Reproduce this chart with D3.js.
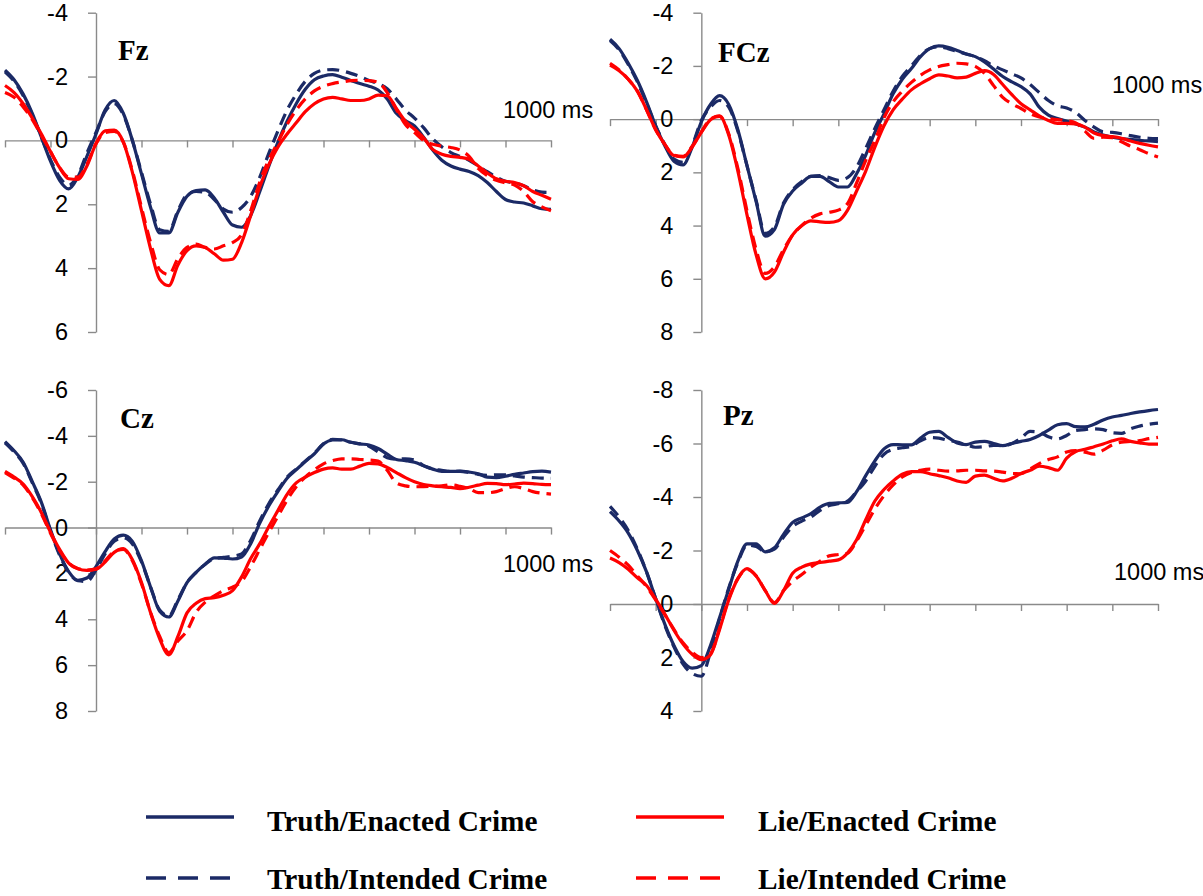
<!DOCTYPE html>
<html>
<head>
<meta charset="utf-8">
<script src="https://cdn.jsdelivr.net/npm/d3@7"></script>
<style>
	body { margin: 0; background: #fff; }
	.tick text { font-family: "Liberation Sans", Arial, sans-serif; font-size: 23.5px; fill: #000; }
	.axis path, .axis line { stroke: #8a8a8a; stroke-width: 1.4px; }
</style>
</head>
<body>
<script>
// sample times in ms (every 20 ms from -200 to 1000)
var times = d3.range(-200, 1001, 20)
var x_ticks = d3.range(-200, 1001, 100)

// amplitudes in microvolts
var fz_truth_enacted = [
	-2.2,-1.9,-1.45,-0.85,-0.1,0.65,1.25,1.52,1.15,0.5,
	-0.2,-0.95,-1.25,-0.85,0.0,1.05,2.1,2.9,2.9,2.25,
	1.75,1.57,1.55,1.8,2.25,2.65,2.72,2.35,1.6,0.8,
	0.05,-0.6,-1.15,-1.6,-1.9,-2.02,-2.06,-1.98,-1.88,-1.78,
	-1.7,-1.58,-1.3,-0.85,-0.62,-0.45,-0.1,0.3,0.62,0.8,
	0.9,0.97,1.1,1.32,1.6,1.85,1.93,1.96,2.05,2.14,
	2.16]
var fz_truth_intended = [
	-2.15,-1.85,-1.4,-0.8,-0.1,0.6,1.15,1.4,1.1,0.4,
	-0.25,-0.9,-1.15,-0.8,0.0,1.0,2.0,2.8,2.85,2.2,
	1.7,1.6,1.62,1.85,2.15,2.25,2.1,1.75,1.15,0.4,
	-0.3,-0.95,-1.45,-1.85,-2.1,-2.2,-2.22,-2.18,-2.1,-2.0,
	-1.88,-1.78,-1.62,-1.3,-0.95,-0.7,-0.4,-0.05,0.2,0.38,
	0.5,0.62,0.8,0.98,1.15,1.28,1.33,1.42,1.55,1.62,
	1.63]
var fz_lie_enacted = [
	-1.72,-1.5,-1.15,-0.7,-0.2,0.35,0.85,1.2,1.22,0.8,
	0.1,-0.3,-0.32,0.05,1.0,2.2,3.4,4.35,4.55,3.9,
	3.45,3.3,3.35,3.55,3.75,3.72,3.2,2.35,1.45,0.75,
	0.2,-0.2,-0.55,-0.9,-1.15,-1.3,-1.35,-1.3,-1.25,-1.25,
	-1.3,-1.42,-1.4,-1.0,-0.6,-0.35,-0.08,0.28,0.43,0.5,
	0.53,0.59,0.8,1.02,1.2,1.28,1.32,1.42,1.6,1.72,
	1.84]
var fz_lie_intended = [
	-1.5,-1.35,-1.05,-0.65,-0.15,0.35,0.85,1.15,1.15,0.75,
	0.1,-0.25,-0.28,0.05,0.95,2.1,3.2,4.05,4.2,3.7,
	3.35,3.25,3.35,3.4,3.3,3.2,2.95,2.2,1.3,0.6,
	0.05,-0.5,-0.95,-1.3,-1.55,-1.7,-1.78,-1.83,-1.87,-1.88,
	-1.87,-1.82,-1.5,-0.98,-0.5,-0.25,0.0,0.12,0.18,0.22,
	0.3,0.5,0.88,1.1,1.25,1.33,1.4,1.6,1.92,2.08,
	2.2]

var fcz_truth_enacted = [
	-3.0,-2.65,-2.1,-1.45,-0.65,0.25,1.0,1.58,1.72,1.05,
	0.1,-0.55,-0.88,-0.55,0.4,1.75,3.1,4.4,4.15,3.2,
	2.7,2.4,2.15,2.15,2.35,2.55,2.55,2.05,1.35,0.5,
	-0.2,-0.95,-1.5,-1.9,-2.35,-2.65,-2.75,-2.7,-2.58,-2.45,
	-2.35,-2.15,-1.88,-1.6,-1.4,-1.22,-0.95,-0.45,-0.15,-0.02,
	0.08,0.18,0.3,0.48,0.6,0.68,0.73,0.76,0.8,0.82,
	0.85]
var fcz_truth_intended = [
	-2.95,-2.6,-2.05,-1.4,-0.6,0.25,0.95,1.5,1.62,1.0,
	0.05,-0.45,-0.7,-0.45,0.45,1.75,3.05,4.3,4.05,3.15,
	2.65,2.35,2.15,2.12,2.2,2.3,2.2,1.8,1.1,0.35,
	-0.35,-1.05,-1.6,-2.0,-2.4,-2.65,-2.72,-2.65,-2.55,-2.45,
	-2.35,-2.2,-2.0,-1.85,-1.7,-1.55,-1.3,-1.0,-0.7,-0.5,
	-0.42,-0.25,0.05,0.3,0.48,0.5,0.55,0.62,0.68,0.72,
	0.73]
var fcz_lie_enacted = [
	-2.03,-1.82,-1.5,-1.05,-0.35,0.4,0.95,1.37,1.42,1.05,
	0.5,0.02,-0.12,0.6,1.95,3.6,5.1,6.0,5.75,5.0,
	4.35,4.0,3.82,3.86,3.88,3.82,3.43,2.7,1.95,1.05,
	0.25,-0.35,-0.75,-1.1,-1.33,-1.52,-1.66,-1.62,-1.55,-1.58,
	-1.72,-1.82,-1.68,-1.3,-0.92,-0.58,-0.35,-0.12,0.05,0.16,
	0.16,0.18,0.3,0.52,0.62,0.66,0.72,0.82,0.91,0.98,
	1.04]
var fcz_lie_intended = [
	-2.1,-1.85,-1.5,-1.05,-0.35,0.4,0.95,1.35,1.4,1.02,
	0.48,0.0,-0.1,0.55,1.85,3.45,4.9,5.8,5.55,4.9,
	4.35,4.0,3.72,3.56,3.5,3.42,3.18,2.4,1.55,0.8,
	-0.05,-0.65,-1.05,-1.38,-1.65,-1.85,-1.98,-2.05,-2.1,-2.08,
	-1.98,-1.72,-1.26,-0.82,-0.58,-0.4,-0.2,-0.08,-0.02,0.02,
	0.06,0.14,0.45,0.72,0.68,0.7,0.85,1.02,1.15,1.3,
	1.42]

var cz_truth_enacted = [
	-3.75,-3.35,-2.85,-2.0,-1.1,0.1,1.15,1.92,2.3,2.2,
	1.7,1.05,0.5,0.33,0.6,1.45,2.6,3.65,3.9,3.2,
	2.4,1.95,1.6,1.32,1.33,1.37,1.28,0.7,-0.2,-0.95,
	-1.58,-2.15,-2.52,-2.88,-3.22,-3.65,-3.82,-3.83,-3.72,-3.65,
	-3.6,-3.45,-3.2,-2.97,-2.92,-2.85,-2.7,-2.55,-2.45,-2.45,
	-2.46,-2.42,-2.35,-2.2,-2.18,-2.24,-2.32,-2.38,-2.44,-2.46,
	-2.42]
var cz_truth_intended = [
	-3.7,-3.3,-2.8,-1.95,-1.05,0.15,1.2,1.95,2.32,2.35,
	1.85,1.15,0.6,0.45,0.72,1.5,2.6,3.6,3.85,3.15,
	2.4,1.95,1.6,1.35,1.3,1.25,1.15,0.55,-0.3,-1.05,
	-1.65,-2.2,-2.55,-2.9,-3.25,-3.65,-3.85,-3.82,-3.72,-3.65,
	-3.55,-3.3,-3.05,-2.98,-3.0,-2.95,-2.7,-2.55,-2.5,-2.45,
	-2.45,-2.4,-2.32,-2.28,-2.3,-2.3,-2.25,-2.2,-2.18,-2.16,
	-2.15]
var cz_lie_enacted = [
	-2.45,-2.2,-1.9,-1.35,-0.65,0.2,0.95,1.55,1.8,1.87,
	1.82,1.5,1.08,0.92,1.4,2.4,3.72,4.85,5.55,4.75,
	3.72,3.3,3.1,3.06,2.95,2.75,2.15,1.35,0.7,-0.05,
	-0.75,-1.45,-1.95,-2.2,-2.4,-2.55,-2.6,-2.55,-2.55,-2.68,
	-2.8,-2.78,-2.62,-2.4,-2.18,-2.0,-1.88,-1.82,-1.78,-1.75,
	-1.7,-1.76,-1.85,-1.93,-1.92,-1.87,-1.9,-1.94,-1.92,-1.88,
	-1.87]
var cz_lie_intended = [
	-2.4,-2.15,-1.85,-1.3,-0.6,0.25,1.0,1.55,1.78,1.85,
	1.8,1.45,1.05,0.95,1.45,2.45,3.7,4.75,5.45,4.95,
	4.5,3.7,3.25,2.98,2.75,2.6,2.35,1.7,0.95,0.2,
	-0.5,-1.2,-1.78,-2.2,-2.52,-2.78,-2.92,-3.0,-3.0,-2.97,
	-2.95,-2.9,-2.5,-1.95,-1.82,-1.78,-1.79,-1.8,-1.82,-1.86,
	-1.8,-1.7,-1.52,-1.52,-1.57,-1.7,-1.78,-1.7,-1.57,-1.5,
	-1.46]

var pz_truth_enacted = [
	-3.45,-3.1,-2.65,-2.0,-1.2,-0.2,0.75,1.55,2.15,2.4,
	2.3,1.55,0.5,-0.55,-1.6,-2.25,-2.25,-1.95,-2.1,-2.6,
	-3.05,-3.22,-3.38,-3.62,-3.76,-3.78,-3.8,-4.2,-4.8,-5.35,
	-5.8,-5.96,-5.95,-5.95,-6.2,-6.42,-6.45,-6.23,-6.02,-5.96,
	-6.05,-6.08,-6.0,-5.92,-6.0,-6.08,-6.15,-6.3,-6.5,-6.7,
	-6.74,-6.63,-6.62,-6.72,-6.88,-6.99,-7.05,-7.12,-7.18,-7.23,
	-7.27]
var pz_truth_intended = [
	-3.65,-3.25,-2.75,-2.05,-1.2,-0.2,0.8,1.6,2.25,2.6,
	2.7,1.8,0.55,-0.6,-1.55,-2.2,-2.15,-1.95,-2.05,-2.5,
	-2.9,-3.1,-3.25,-3.5,-3.68,-3.75,-3.84,-4.2,-4.6,-5.15,
	-5.6,-5.78,-5.84,-5.9,-6.1,-6.22,-6.2,-6.12,-6.05,-5.95,
	-5.86,-5.88,-5.93,-5.92,-6.0,-6.2,-6.45,-6.42,-6.25,-6.17,
	-6.3,-6.49,-6.52,-6.55,-6.52,-6.4,-6.38,-6.55,-6.65,-6.72,
	-6.76]
var pz_lie_enacted = [
	-1.72,-1.55,-1.3,-0.98,-0.69,-0.18,0.38,0.98,1.5,1.88,
	2.08,1.9,0.95,-0.15,-0.95,-1.32,-1.05,-0.5,-0.02,-0.5,
	-1.15,-1.38,-1.5,-1.55,-1.6,-1.65,-1.9,-2.4,-3.15,-3.85,
	-4.28,-4.6,-4.85,-4.95,-4.95,-4.87,-4.8,-4.72,-4.6,-4.55,
	-4.78,-4.82,-4.7,-4.6,-4.7,-4.88,-5.0,-5.15,-5.1,-5.0,
	-5.45,-5.7,-5.78,-5.88,-5.98,-6.1,-6.17,-6.08,-6.02,-5.98,
	-5.98]
var pz_lie_intended = [
	-2.0,-1.75,-1.45,-1.05,-0.65,-0.15,0.4,0.95,1.45,1.8,
	2.0,1.85,0.9,-0.2,-0.95,-1.3,-1.05,-0.5,-0.05,-0.5,
	-0.85,-1.1,-1.38,-1.6,-1.8,-1.85,-1.9,-2.35,-2.95,-3.55,
	-4.05,-4.45,-4.75,-4.92,-5.0,-5.04,-5.0,-4.97,-4.98,-5.0,
	-5.0,-4.98,-4.97,-4.93,-4.88,-4.87,-5.05,-5.25,-5.4,-5.5,
	-5.68,-5.73,-5.68,-5.6,-5.75,-5.95,-6.05,-6.08,-6.11,-6.18,
	-6.23]

var fz_ticks = [-4, -2, 0, 2, 4, 6]
var fcz_ticks = [-4, -2, 0, 2, 4, 6, 8]
var cz_ticks = [-6, -4, -2, 0, 2, 4, 6, 8]
var pz_ticks = [-8, -6, -4, -2, 0, 2, 4]

var condition_labels = ["Truth/Enacted Crime", "Truth/Intended Crime", "Lie/Enacted Crime", "Lie/Intended Crime"]

var navy = "#1b2a66"
var red = "#ff0000"
var styles = [
	{color: navy, dash: null},
	{color: navy, dash: "12,7"},
	{color: red, dash: null},
	{color: red, dash: "12,7"}
]

var panels = [
	{name: "Fz", series: [fz_truth_enacted, fz_truth_intended, fz_lie_enacted, fz_lie_intended], ticks: fz_ticks,
		left: 5, right: 551, top: 12.7, bottom: 332, title: [118, 60], ms: [503, 118]},
	{name: "FCz", series: [fcz_truth_enacted, fcz_truth_intended, fcz_lie_enacted, fcz_lie_intended], ticks: fcz_ticks,
		left: 610, right: 1158, top: 12.7, bottom: 332, title: [718, 62], ms: [1112, 93]},
	{name: "Cz", series: [cz_truth_enacted, cz_truth_intended, cz_lie_enacted, cz_lie_intended], ticks: cz_ticks,
		left: 5, right: 551, top: 390, bottom: 711, title: [120, 428], ms: [503, 572]},
	{name: "Pz", series: [pz_truth_enacted, pz_truth_intended, pz_lie_enacted, pz_lie_intended], ticks: pz_ticks,
		left: 610, right: 1158, top: 390, bottom: 711, title: [723, 425], ms: [1114, 580]}
]

var svg = d3.select("body")
	.append("svg")
	.attr("width", 1203)
	.attr("height", 896)

svg.append("rect").attr("width", 1203).attr("height", 896).attr("fill", "#fff")

panels.forEach((p) => {
	var x = d3.scaleLinear().domain([-200, 1000]).range([p.left, p.right])
	var y = d3.scaleLinear().domain([p.ticks[0], p.ticks[p.ticks.length - 1]]).range([p.top, p.bottom])
	var g = svg.append("g").attr("class", "panel")

	// zero line with ticks below it
	g.append("g")
		.attr("class", "axis")
		.attr("transform", "translate(0," + y(0) + ")")
		.call(d3.axisBottom(x).tickValues(x_ticks).tickSize(7).tickSizeOuter(0).tickFormat(""))

	g.append("g")
		.attr("class", "axis")
		.attr("transform", "translate(" + x(0) + ",0)")
		.call(d3.axisLeft(y).tickValues(p.ticks).tickSize(8).tickSizeOuter(0).tickPadding(20).tickFormat((d) => String(d)))

	var line = d3.line()
		.x((d, i) => x(times[i]))
		.y((d) => y(d))
		.curve(d3.curveMonotoneX)

	p.series.forEach((s, k) => {
		g.append("path")
			.datum(s)
			.attr("d", line)
			.attr("fill", "none")
			.attr("stroke", styles[k].color)
			.attr("stroke-width", 3.2)
			.attr("stroke-linejoin", "round")
			.attr("stroke-dasharray", styles[k].dash)
	})

	g.append("text")
		.attr("x", p.title[0])
		.attr("y", p.title[1])
		.attr("font-family", "'Liberation Serif', 'Times New Roman', serif")
		.attr("font-weight", "bold")
		.attr("font-size", 29)
		.text(p.name)

	g.append("text")
		.attr("x", p.ms[0])
		.attr("y", p.ms[1])
		.attr("font-family", "'Liberation Sans', Arial, sans-serif")
		.attr("font-size", 23.5)
		.text("1000 ms")
})

// legend, two columns by two rows
var legend_cols = [{line: [146, 234], text: 267}, {line: [636, 724], text: 758}]
var legend_rows = [{line: 817, text: 831}, {line: 878, text: 889}]
var legend = svg.append("g").attr("class", "legend")
condition_labels.forEach((label, k) => {
	var col = legend_cols[Math.floor(k / 2)]
	var row = legend_rows[k % 2]
	legend.append("line")
		.attr("x1", col.line[0])
		.attr("x2", col.line[1])
		.attr("y1", row.line)
		.attr("y2", row.line)
		.attr("stroke", styles[k].color)
		.attr("stroke-width", 3.4)
		.attr("stroke-dasharray", styles[k].dash ? "20,12" : null)
	legend.append("text")
		.attr("x", col.text)
		.attr("y", row.text)
		.attr("font-family", "'Liberation Serif', 'Times New Roman', serif")
		.attr("font-weight", "bold")
		.attr("font-size", 29.3)
		.text(label)
})
</script>
</body>
</html>
